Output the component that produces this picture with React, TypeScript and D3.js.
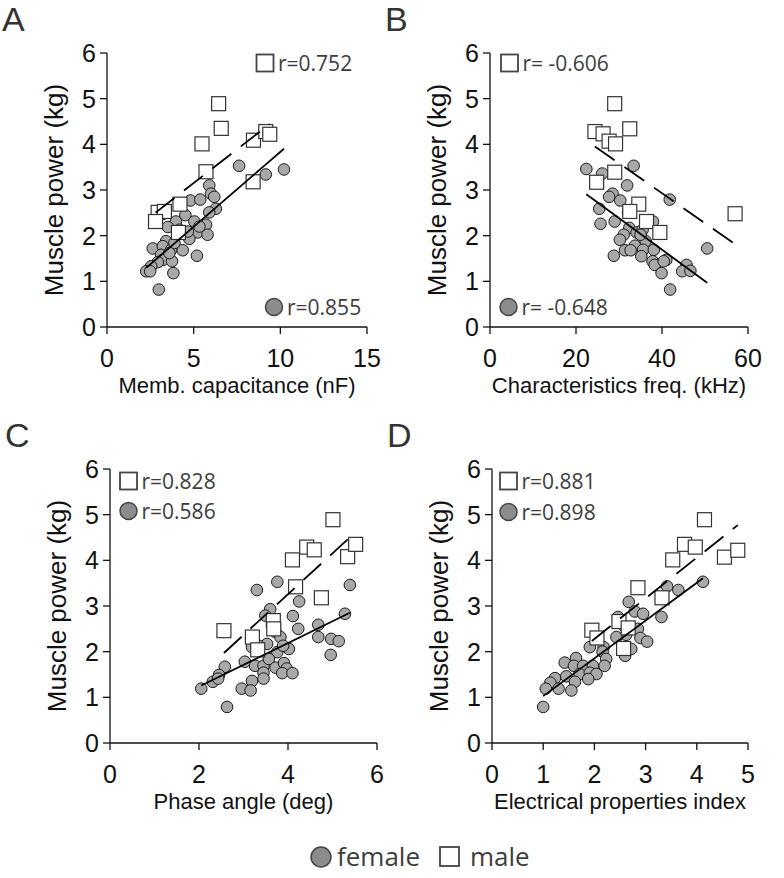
import React from 'react';
import * as d3 from 'd3';

type Pt = [number, number];

const yTicks = [0, 1, 2, 3, 4, 5, 6];
const yTitle = 'Muscle power (kg)';

const aXTicks = [0, 5, 10, 15];
const bXTicks = [0, 20, 40, 60];
const cXTicks = [0, 2, 4, 6];
const dXTicks = [0, 1, 2, 3, 4, 5];

const aFemale: Pt[] = [[7.62,3.53],[10.21,3.45],[9.16,3.34],[5.90,3.10],[6.00,2.92],[6.19,2.85],[4.81,2.77],[5.38,2.79],[6.28,2.59],[5.90,2.51],[4.52,2.45],[3.98,2.31],[5.04,2.31],[5.71,2.24],[3.51,2.19],[5.23,2.07],[5.80,2.02],[4.75,1.93],[4.18,2.13],[2.64,1.72],[3.41,1.88],[3.22,1.77],[3.70,1.69],[4.37,1.68],[3.89,1.84],[5.19,1.56],[3.12,1.58],[3.22,1.47],[3.75,1.44],[2.93,1.42],[2.55,1.33],[2.26,1.22],[2.49,1.22],[3.83,1.18],[2.99,0.82],[3.60,1.62],[5.33,2.20],[4.66,2.09]];
const aMale: Pt[] = [[6.44,4.89],[6.59,4.35],[5.48,4.01],[5.71,3.40],[8.45,4.09],[9.16,4.28],[9.39,4.22],[8.43,3.18],[4.21,2.69],[2.95,2.51],[3.31,2.53],[2.80,2.31],[4.12,2.07]];

const bFemale: Pt[] = [[22.4,3.46],[33.4,3.53],[26.1,3.36],[31.9,3.10],[28.5,2.92],[27.7,2.85],[30.3,2.77],[41.8,2.79],[25.4,2.59],[32.1,2.51],[25.7,2.26],[29.0,2.31],[37.9,2.31],[32.4,2.17],[31.1,2.02],[34.1,2.07],[35.5,2.13],[30.2,1.91],[36.2,1.88],[35.0,2.02],[33.7,1.78],[31.4,1.68],[32.7,1.68],[35.6,1.69],[38.1,1.69],[28.8,1.56],[35.2,1.55],[37.8,1.44],[38.3,1.36],[41.0,1.47],[40.4,1.44],[39.9,1.18],[45.7,1.36],[44.7,1.22],[46.6,1.23],[50.5,1.72],[41.9,0.82]];
const bMale: Pt[] = [[29.0,4.89],[24.4,4.28],[26.3,4.23],[27.7,4.07],[29.2,4.01],[32.5,4.34],[29.0,3.39],[24.8,3.17],[34.6,2.69],[32.5,2.53],[36.4,2.31],[39.5,2.07],[57.0,2.48]];

const cFemale: Pt[] = [[3.30,3.35],[3.76,3.53],[5.39,3.46],[4.25,3.10],[3.60,2.93],[3.49,2.79],[4.11,2.78],[5.28,2.83],[4.23,2.50],[4.68,2.59],[3.72,2.43],[4.68,2.32],[4.97,2.28],[5.14,2.23],[4.96,1.93],[3.83,2.32],[3.53,2.17],[3.19,2.10],[3.34,2.13],[3.76,1.99],[4.02,2.06],[3.89,2.13],[3.03,1.78],[3.26,1.69],[3.45,1.69],[3.57,1.84],[3.72,1.65],[3.91,1.75],[3.97,1.63],[3.87,1.53],[4.10,1.53],[3.45,1.54],[3.45,1.41],[2.58,1.67],[2.45,1.49],[2.31,1.34],[2.43,1.41],[2.05,1.19],[2.96,1.19],[3.19,1.36],[3.16,1.15],[2.63,0.79]];
const cMale: Pt[] = [[5.01,4.89],[4.42,4.29],[4.59,4.23],[4.10,4.01],[5.34,4.08],[5.52,4.35],[4.17,3.42],[4.75,3.18],[2.56,2.46],[3.20,2.32],[3.67,2.68],[3.68,2.50],[3.32,2.04]];

const dFemale: Pt[] = [[4.12,3.53],[3.42,3.43],[3.64,3.35],[2.67,3.09],[2.79,2.88],[2.95,2.83],[3.31,2.76],[2.46,2.76],[2.57,2.57],[2.85,2.50],[2.62,2.37],[2.43,2.32],[2.90,2.30],[3.03,2.22],[2.72,2.06],[2.60,1.91],[1.91,2.10],[2.18,2.10],[2.16,2.00],[2.23,1.84],[1.42,1.76],[1.64,1.86],[1.60,1.69],[1.78,1.69],[1.97,1.69],[2.20,1.69],[1.71,1.51],[1.91,1.54],[2.04,1.51],[1.45,1.46],[1.88,1.40],[1.23,1.42],[1.14,1.32],[1.62,1.34],[1.30,1.19],[1.05,1.19],[1.55,1.15],[1.00,0.79]];
const dMale: Pt[] = [[4.15,4.89],[3.76,4.35],[3.97,4.29],[3.53,4.01],[4.54,4.07],[4.80,4.22],[2.85,3.40],[3.32,3.18],[1.95,2.47],[2.48,2.66],[2.66,2.52],[2.57,2.07],[2.05,2.30]];

const letters = ['A', 'B', 'C', 'D'];
const xTitles = ['Memb. capacitance (nF)', 'Characteristics freq. (kHz)', 'Phase angle (deg)', 'Electrical properties index'];
const maleR = ['r=0.752', 'r= -0.606', 'r=0.828', 'r=0.881'];
const femaleR = ['r=0.855', 'r= -0.648', 'r=0.586', 'r=0.898'];
const legendLabels = ['female', 'male'];

const AXIS_FONT = '"Liberation Sans", Arial, Helvetica, sans-serif';
const ANN_FONT = '"Open Sans", "Noto Sans", sans-serif';

interface PanelCfg {
  letter: string;
  female: Pt[];
  male: Pt[];
  xDomain: [number, number];
  xTicks: number[];
  xTitle: string;
  rMale: string;
  rFemale: string;
  left: number;
  right: number;
  top: number;
  bottom: number;
  annMale: [number, number];
  annFemale: [number, number];
}

const panels: PanelCfg[] = [
  { letter: letters[0], female: aFemale, male: aMale, xDomain: [0, 15], xTicks: aXTicks, xTitle: xTitles[0], rMale: maleR[0], rFemale: femaleR[0],
    left: 107, right: 367, top: 53, bottom: 327, annMale: [265, 63], annFemale: [274, 307] },
  { letter: letters[1], female: bFemale, male: bMale, xDomain: [0, 60], xTicks: bXTicks, xTitle: xTitles[1], rMale: maleR[1], rFemale: femaleR[1],
    left: 490, right: 748, top: 53, bottom: 327, annMale: [509.5, 63], annFemale: [508.5, 307] },
  { letter: letters[2], female: cFemale, male: cMale, xDomain: [0, 6], xTicks: cXTicks, xTitle: xTitles[2], rMale: maleR[2], rFemale: femaleR[2],
    left: 110, right: 377, top: 469, bottom: 743, annMale: [128.5, 481], annFemale: [128.5, 511] },
  { letter: letters[3], female: dFemale, male: dMale, xDomain: [0, 5], xTicks: dXTicks, xTitle: xTitles[3], rMale: maleR[3], rFemale: femaleR[3],
    left: 492, right: 748, top: 469, bottom: 743, annMale: [508.5, 481], annFemale: [508.5, 512] },
];

function fit(pts: Pt[]) {
  const mx = d3.mean(pts, (p) => p[0]) as number;
  const my = d3.mean(pts, (p) => p[1]) as number;
  const sxy = d3.sum(pts, (p) => (p[0] - mx) * (p[1] - my));
  const sxx = d3.sum(pts, (p) => (p[0] - mx) ** 2);
  const slope = sxy / sxx;
  const icpt = my - slope * mx;
  const [x0, x1] = d3.extent(pts, (p) => p[0]) as [number, number];
  return [[x0, icpt + slope * x0], [x1, icpt + slope * x1]] as Pt[];
}

const SQ = 14;
const CR = 5.8;

function Panel({ cfg }: { cfg: PanelCfg }) {
  const x = d3.scaleLinear().domain(cfg.xDomain).range([cfg.left, cfg.right]);
  const y = d3.scaleLinear().domain([0, 6]).range([cfg.bottom, cfg.top]);
  const line = d3.line<Pt>().x((d) => x(d[0])).y((d) => y(d[1]));
  const fFit = fit(cfg.female);
  const mFit = fit(cfg.male);
  const midY = (cfg.top + cfg.bottom) / 2;
  const midX = (cfg.left + cfg.right) / 2;
  return (
    <g>
      <text x={cfg.left - 105} y={cfg.top - 22} fontFamily={AXIS_FONT} fontSize={34} fill="#333">{cfg.letter}</text>
      {/* y axis */}
      <line x1={cfg.left} x2={cfg.left} y1={y(6)} y2={y(0)} stroke="#111" strokeWidth={1.3} />
      {yTicks.map((t) => (
        <g key={'y' + t}>
          <line x1={cfg.left - 7} x2={cfg.left} y1={y(t)} y2={y(t)} stroke="#111" strokeWidth={1.3} />
          <text x={cfg.left - 11} y={y(t) + 9} textAnchor="end" fontFamily={AXIS_FONT} fontSize={25} fill="#111">{t}</text>
        </g>
      ))}
      <text transform={`translate(${cfg.left - 44},${midY}) rotate(-90)`} textAnchor="middle" fontFamily={AXIS_FONT} fontSize={26} fill="#111">{yTitle}</text>
      {/* x axis */}
      <line x1={x(cfg.xDomain[0])} x2={x(cfg.xDomain[1])} y1={cfg.bottom} y2={cfg.bottom} stroke="#111" strokeWidth={1.3} />
      {cfg.xTicks.map((t) => (
        <g key={'x' + t}>
          <line x1={x(t)} x2={x(t)} y1={cfg.bottom} y2={cfg.bottom + 7} stroke="#111" strokeWidth={1.3} />
          <text x={x(t)} y={cfg.bottom + 40} textAnchor="middle" fontFamily={AXIS_FONT} fontSize={25} fill="#111">{t}</text>
        </g>
      ))}
      <text x={midX} y={cfg.bottom + 66} textAnchor="middle" fontFamily={AXIS_FONT} fontSize={22} fill="#111">{cfg.xTitle}</text>
      {/* points */}
      {cfg.female.map((p, i) => (
        <circle key={'f' + i} cx={x(p[0])} cy={y(p[1])} r={CR} fill="#a8a8a8" stroke="#1a1a1a" strokeWidth={1} />
      ))}
      {cfg.male.map((p, i) => (
        <rect key={'m' + i} x={x(p[0]) - SQ / 2} y={y(p[1]) - SQ / 2} width={SQ} height={SQ} fill="#fff" stroke="#333" strokeWidth={1.2} />
      ))}
      <path d={line(fFit) || ''} stroke="#000" strokeWidth={1.8} fill="none" />
      <path d={line(mFit) || ''} stroke="#000" strokeWidth={1.8} fill="none" strokeDasharray="24 12" />
      {/* annotations */}
      <rect x={cfg.annMale[0] - 8.5} y={cfg.annMale[1] - 8.5} width={17} height={17} fill="#fff" stroke="#444" strokeWidth={1.8} />
      <text x={cfg.annMale[0] + 13} y={cfg.annMale[1] + 7.5} fontFamily={ANN_FONT} fontSize={21} fill="#3d3d3d">{cfg.rMale}</text>
      <circle cx={cfg.annFemale[0]} cy={cfg.annFemale[1]} r={8.5} fill="#8c8c8c" stroke="#444" strokeWidth={1.5} />
      <text x={cfg.annFemale[0] + 13} y={cfg.annFemale[1] + 7.5} fontFamily={ANN_FONT} fontSize={21} fill="#3d3d3d">{cfg.rFemale}</text>
    </g>
  );
}

export default function App() {
  return (
    <svg width={784} height={878} viewBox="0 0 784 878" style={{ display: 'block', position: 'absolute', left: 0, top: 0, background: '#fff' }}>
      <rect width={784} height={878} fill="#fff" />
      {panels.map((p) => <Panel key={p.letter} cfg={p} />)}
      {/* bottom legend */}
      <circle cx={321} cy={857} r={10} fill="#8c8c8c" stroke="#444" strokeWidth={1.5} />
      <text x={337} y={866} fontFamily={ANN_FONT} fontSize={26} fill="#3d3d3d">{legendLabels[0]}</text>
      <rect x={440} y={847} width={19} height={19} fill="#fff" stroke="#444" strokeWidth={1.8} />
      <text x={470} y={866} fontFamily={ANN_FONT} fontSize={26} fill="#3d3d3d">{legendLabels[1]}</text>
    </svg>
  );
}
